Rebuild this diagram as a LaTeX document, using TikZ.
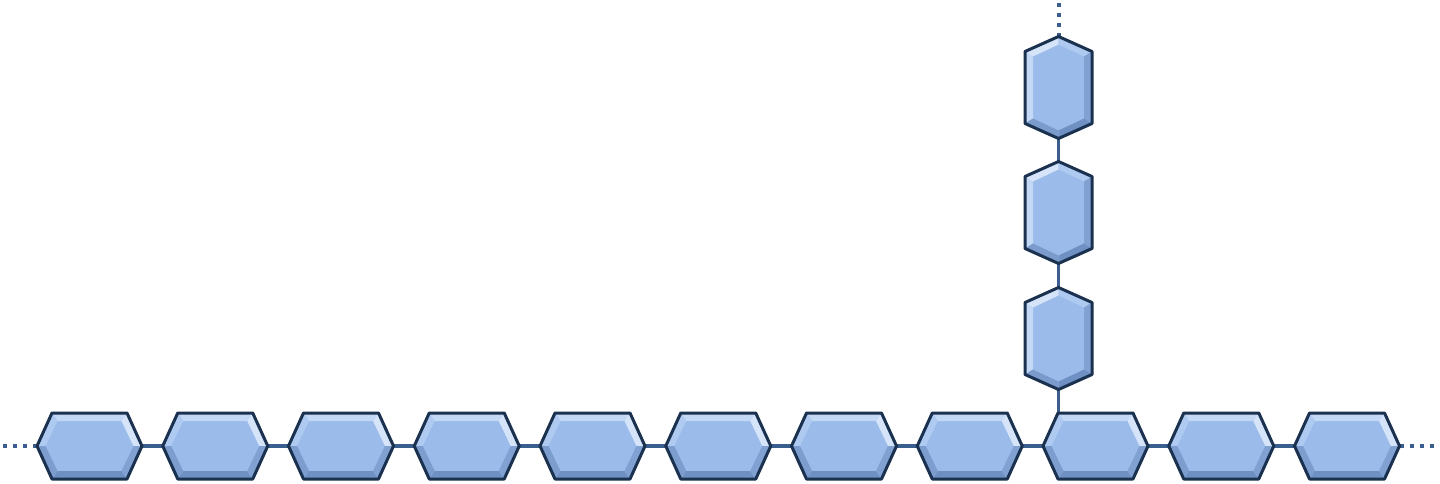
\documentclass[tikz,border=0pt]{standalone}
\usetikzlibrary{backgrounds}
\definecolor{hexfill}{HTML}{9BBBEA}
\definecolor{hexlight}{HTML}{C3D8F5}
\definecolor{hexmid}{HTML}{AFCAF0}
\definecolor{hexdark}{HTML}{6F90C2}
\definecolor{hexline}{HTML}{1B3150}
\definecolor{linkcol}{HTML}{3A5E8E}
\tikzset{
  hbox/.style={minimum width=105pt, minimum height=66pt, inner sep=0pt, outer sep=0pt},
  vbox/.style={minimum width=67pt, minimum height=102pt, inner sep=0pt, outer sep=0pt},
  hexedge/.style={draw=hexline, line width=3pt, line join=round},
  link/.style={draw=linkcol, line width=3.5pt},
  dotlink/.style={draw=linkcol, line width=4pt, dash pattern=on 4pt off 6pt}
}
% horizontal hexagon: name, x, y
\newcommand\myhexH[3]{%
  \node[hbox] (#1) at (#2,#3) {};
  \begin{scope}[shift={(#1.center)}]
    \fill[hexfill] (-52.5,0) -- (-37.5,-33) -- (37.5,-33) -- (52.5,0) -- (37.5,33) -- (-37.5,33) -- cycle;
    \fill[hexlight] (-37.5,-33) -- (37.5,-33) -- (32,-25) -- (-32,-25) -- cycle;
    \fill[hexmid] (-52.5,0) -- (-37.5,-33) -- (-32,-25) -- (-44,0) -- cycle;
    \fill[hexlight!70!white] (52.5,0) -- (37.5,-33) -- (32,-25) -- (44,0) -- cycle;
    \fill[hexdark] (-37.5,33) -- (37.5,33) -- (32,25) -- (-32,25) -- cycle;
    \fill[hexdark!70!hexfill] (-52.5,0) -- (-37.5,33) -- (-32,25) -- (-44,0) -- cycle;
    \fill[hexdark!60!hexfill] (52.5,0) -- (37.5,33) -- (32,25) -- (44,0) -- cycle;
    \path[hexedge] (-52.5,0) -- (-37.5,-33) -- (37.5,-33) -- (52.5,0) -- (37.5,33) -- (-37.5,33) -- cycle;
  \end{scope}}
% vertical hexagon: name, x, y
\newcommand\myhexV[3]{%
  \node[vbox] (#1) at (#2,#3) {};
  \begin{scope}[shift={(#1.center)}]
    \fill[hexfill] (0,-51) -- (33.5,-36) -- (33.5,36) -- (0,51) -- (-33.5,36) -- (-33.5,-36) -- cycle;
    \fill[hexlight] (-33.5,-36) -- (-33.5,36) -- (-25.5,31) -- (-25.5,-31) -- cycle;
    \fill[hexlight!70!white] (0,-51) -- (-33.5,-36) -- (-25.5,-31) -- (0,-43) -- cycle;
    \fill[hexmid] (0,-51) -- (33.5,-36) -- (25.5,-31) -- (0,-43) -- cycle;
    \fill[hexdark!60!hexfill] (33.5,-36) -- (33.5,36) -- (25.5,31) -- (25.5,-31) -- cycle;
    \fill[hexdark] (0,51) -- (33.5,36) -- (25.5,31) -- (0,43) -- cycle;
    \fill[hexdark!75!hexfill] (0,51) -- (-33.5,36) -- (-25.5,31) -- (0,43) -- cycle;
    \path[hexedge] (0,-51) -- (33.5,-36) -- (33.5,36) -- (0,51) -- (-33.5,36) -- (-33.5,-36) -- cycle;
  \end{scope}}
\begin{document}
\begin{tikzpicture}[x=1pt,y=-1pt]
  \useasboundingbox (0,0) rectangle (1440,483);
  \foreach \i in {1,...,11} {
    \pgfmathsetmacro\cx{89.5+(\i-1)*125.75}
    \myhexH{h\i}{\cx}{446}
  }
  \myhexV{v1}{1058.5}{87.5}
  \myhexV{v2}{1058.5}{212.5}
  \myhexV{v3}{1058.5}{338.5}
  \coordinate (lend) at (0,446);
  \coordinate (rend) at (1440,446);
  \coordinate (tend) at (1058.5,0);
  \begin{pgfonlayer}{background}
    \fill[white] (0,0) rectangle (1440,483);
    \foreach \i [evaluate=\i as \j using int(\i+1)] in {1,...,10} {
      \path[link] (h\i.east) -- (h\j.west);
    }
    \path[link] (v1.south) -- (v2.north);
    \path[link] (v2.south) -- (v3.north);
    \path[link] (v3.south) -- (v3.south |- h9.north);
    \path[dotlink] (h1.west) -- (lend);
    \path[dotlink] (h11.east) -- (rend);
    \path[dotlink] (v1.north) -- (tend);
  \end{pgfonlayer}
\end{tikzpicture}
\end{document}
